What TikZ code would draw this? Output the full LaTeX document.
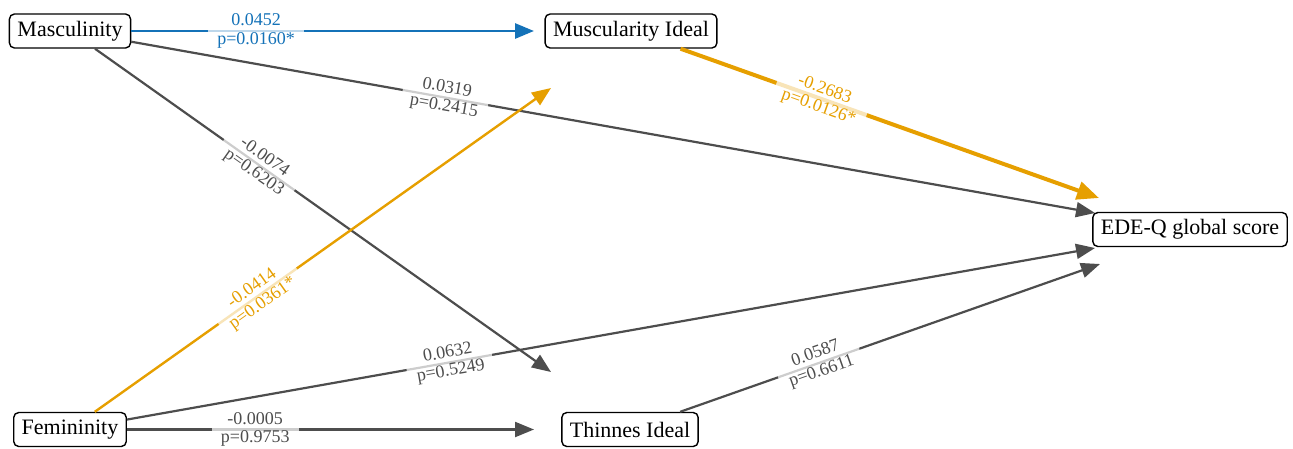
\documentclass[tikz,border=0pt]{standalone}
\usepackage{fontspec}
\setmainfont{Liberation Serif}
\usetikzlibrary{arrows.meta}
\definecolor{eblue}{RGB}{20,114,184}
\definecolor{eorange}{RGB}{230,159,0}
\definecolor{egray}{RGB}{77,77,77}
\tikzset{
  var/.style={draw=black, line width=1.4pt, rounded corners=5pt, fill=white, inner xsep=8pt, inner ysep=0pt, minimum height=34pt, font=\fontsize{22}{24}\selectfont, text=black},
  elab/.style={sloped, fill=white, fill opacity=0.72, text opacity=1, align=center, inner xsep=9pt, inner ysep=1pt, font=\fontsize{18}{18.5}\selectfont},
  gedge/.style={draw=egray, line width=2.2pt, -{Triangle[length=19pt,width=15pt]}},
  bedge/.style={draw=eblue, line width=2.8pt, -{Triangle[length=19pt,width=15pt]}},
  oedge/.style={draw=eorange, line width=2.4pt, -{Triangle[length=19pt,width=15pt]}},
  otedge/.style={draw=eorange, line width=4pt, -{Triangle[length=22pt,width=18pt]}},
}
\begin{document}
\begin{tikzpicture}[x=1pt,y=-1pt]
\useasboundingbox (0,0) rectangle (1293,448);
\node[var] (masc) at (70,31) {Masculinity};
\node[var] (musc) at (631,31) {Muscularity Ideal};
\node[var] (edeq) at (1190,229.5) {EDE-Q global score};
\node[var] (fem) at (70,429.5) {Femininity};
\node[var] (thin) at (630,429.5) {Thinnes Ideal};
\coordinate (t1) at (534,31);
\coordinate (t2) at (1095,213);
\coordinate (t3) at (551,372);
\coordinate (t4) at (1099,198);
\coordinate (t5) at (551,88);
\coordinate (t6) at (1095,248);
\coordinate (t7) at (534,429.5);
\coordinate (t8) at (1100,264);

\draw[gedge] (masc) -- node[elab, pos=0.326, text=egray] {0.0319\\p=0.2415} (t2);
\draw[gedge] (masc) -- node[elab, pos=0.36, text=egray] {-0.0074\\p=0.6203} (t3);
\draw[gedge] (fem) -- node[elab, pos=0.333, text=egray] {0.0632\\p=0.5249} (t6);
\draw[gedge] (fem) -- node[elab, pos=0.315, text=egray] {-0.0005\\p=0.9753} (t7);
\draw[gedge] (thin) -- node[elab, pos=0.33, text=egray] {0.0587\\p=0.6611} (t8);
\draw[oedge] (fem) -- node[elab, pos=0.357, text=eorange] {-0.0414\\p=0.0361*} (t5);
\draw[otedge] (musc) -- node[elab, pos=0.337, text=eorange] {-0.2683\\p=0.0126*} (t4);
\draw[bedge] (masc) -- node[elab, pos=0.31, text=eblue] {0.0452\\p=0.0160*} (t1);
\end{tikzpicture}
\end{document}
